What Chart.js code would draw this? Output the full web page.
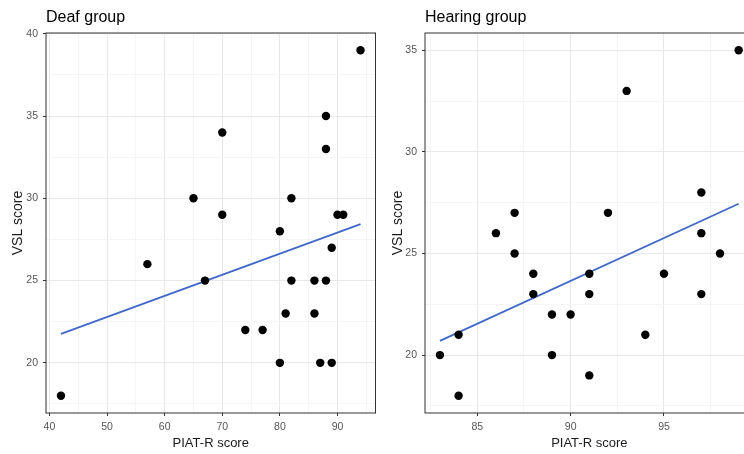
<!DOCTYPE html>
<html><head><meta charset="utf-8">
<script src="https://cdn.jsdelivr.net/npm/chart.js@4/dist/chart.umd.min.js"></script>
<style>
html,body{margin:0;padding:0;overflow:hidden;background:#fff;width:744px;height:454px;}
#wrap{position:relative;width:744px;height:454px;overflow:hidden;}
#c1{position:absolute;left:0;top:0;}
#c2{position:absolute;left:380px;top:0;}
</style></head><body>
<div id="wrap"><canvas id="c1" width="380" height="454"></canvas><canvas id="c2" width="380" height="454"></canvas></div>
<script>
// ---- Data ----
const deafTitle = "Deaf group";
const deafPiat = [94, 88, 88, 70, 65, 70, 82, 90, 91, 80, 57, 67, 89, 82, 86, 88, 81, 86, 74, 77, 80, 87, 89, 42];
const deafVsl  = [39, 35, 33, 34, 30, 29, 30, 29, 29, 28, 26, 25, 27, 25, 25, 25, 23, 23, 22, 22, 20, 20, 20, 18];
const deafFitX = [42, 94];
const deafFitY = [21.76, 28.43];
const deafXMajor = [40, 50, 60, 70, 80, 90];
const deafXMinor = [45, 55, 65, 75, 85, 95];
const deafYMajor = [20, 25, 30, 35, 40];
const deafYMinor = [17.5, 22.5, 27.5, 32.5, 37.5];

const hearTitle = "Hearing group";
const hearPiat = [99, 93, 97, 87, 92, 86, 97, 87, 98, 88, 91, 95, 88, 91, 97, 89, 90, 84, 94, 83, 89, 91, 84];
const hearVsl  = [35, 33, 28, 27, 27, 26, 26, 25, 25, 24, 24, 24, 23, 23, 23, 22, 22, 21, 21, 20, 20, 19, 18];
const hearFitX = [83, 99];
const hearFitY = [20.7, 27.45];
const hearXMajor = [85, 90, 95];
const hearXMinor = [82.5, 87.5, 92.5, 97.5];
const hearYMajor = [20, 25, 30, 35];
const hearYMinor = [17.5, 22.5, 27.5, 32.5];

const xTitle = "PIAT-R score";
const yTitle = "VSL score";

// ---- Styling ----
const FONT = "'Liberation Sans', Arial, sans-serif";
const MAJOR = "#E8E8E8", MINOR = "#F3F3F3", BORDER = "#333333";

const panelPlugin = {
  id: 'panel',
  afterDraw(chart, args, opts) {
    const {ctx, chartArea: a} = chart;
    ctx.save();
    ctx.strokeStyle = BORDER;
    ctx.lineWidth = 1;
    ctx.strokeRect(a.left, a.top, a.right - a.left, a.bottom - a.top);
    ctx.fillStyle = '#000';
    ctx.font = "16px " + FONT;
    ctx.textBaseline = 'alphabetic';
    ctx.textAlign = 'left';
    ctx.fillText(opts.text, a.left, 21.5);
    ctx.restore();
  }
};

function makeChart(id, title, px, py, fx, fy, xMaj, xMin, yMaj, yMin, xr, yr, yW, padRight) {
  const pts = px.map((v, i) => ({x: v, y: py[i]}));
  const fit = fx.map((v, i) => ({x: v, y: fy[i]}));
  const grid = (maj) => ({
    color: c => maj.includes(c.tick.value) ? MAJOR : MINOR,
    lineWidth: c => maj.includes(c.tick.value) ? 1 : 0.8,
    tickColor: c => maj.includes(c.tick.value) ? BORDER : 'rgba(0,0,0,0)',
    tickLength: 3,
    drawTicks: true
  });
  return new Chart(document.getElementById(id), {
    type: 'scatter',
    data: {
      datasets: [
        {data: pts, pointRadius: 4.2, pointBackgroundColor: '#000', pointBorderWidth: 0, borderColor: '#000', order: 1},
        {type: 'line', data: fit, showLine: true, pointRadius: 0, borderColor: '#3D68D0', borderWidth: 1.8, fill: false, order: 2}
      ]
    },
    options: {
      responsive: false, animation: false, devicePixelRatio: 1,
      layout: {padding: {top: 33, right: padRight, left: 0, bottom: 0}},
      plugins: {legend: {display: false}, tooltip: {enabled: false}, panel: {text: title}},
      scales: {
        x: {
          type: 'linear', min: xr[0], max: xr[1],
          afterBuildTicks: s => { s.ticks = xMaj.concat(xMin).sort((a,b)=>a-b).map(v => ({value: v})); },
          afterFit: s => { s.height = 41; },
          ticks: {autoSkip: false, maxRotation: 0, padding: 5, color: '#555555', font: {family: FONT, size: 10.5},
                  callback: v => xMaj.includes(v) ? String(v) : ''},
          grid: grid(xMaj),
          border: {display: false},
          title: {display: true, text: xTitle, color: '#1a1a1a', font: {family: FONT, size: 13}, padding: {top: 0, bottom: 3}}
        },
        y: {
          type: 'linear', min: yr[0], max: yr[1],
          afterBuildTicks: s => { s.ticks = yMaj.concat(yMin).sort((a,b)=>a-b).map(v => ({value: v})); },
          afterFit: s => { s.width = yW; },
          ticks: {autoSkip: false, padding: 5, color: '#555555', font: {family: FONT, size: 10.5},
                  callback: v => yMaj.includes(v) ? String(v) : ''},
          grid: grid(yMaj),
          border: {display: false},
          title: {display: true, text: yTitle, color: '#1a1a1a', font: {family: FONT, size: 14}, padding: {top: 9.5, bottom: 0}}
        }
      }
    },
    plugins: [panelPlugin]
  });
}

makeChart('c1', deafTitle, deafPiat, deafVsl, deafFitX, deafFitY, deafXMajor, deafXMinor, deafYMajor, deafYMinor,
          [39.4, 96.6], [16.95, 40.05], 46, 4.5);
makeChart('c2', hearTitle, hearPiat, hearVsl, hearFitX, hearFitY, hearXMajor, hearXMinor, hearYMajor, hearYMinor,
          [82.2, 99.8], [17.15, 35.85], 45, 6.4);
</script>
</body></html>
